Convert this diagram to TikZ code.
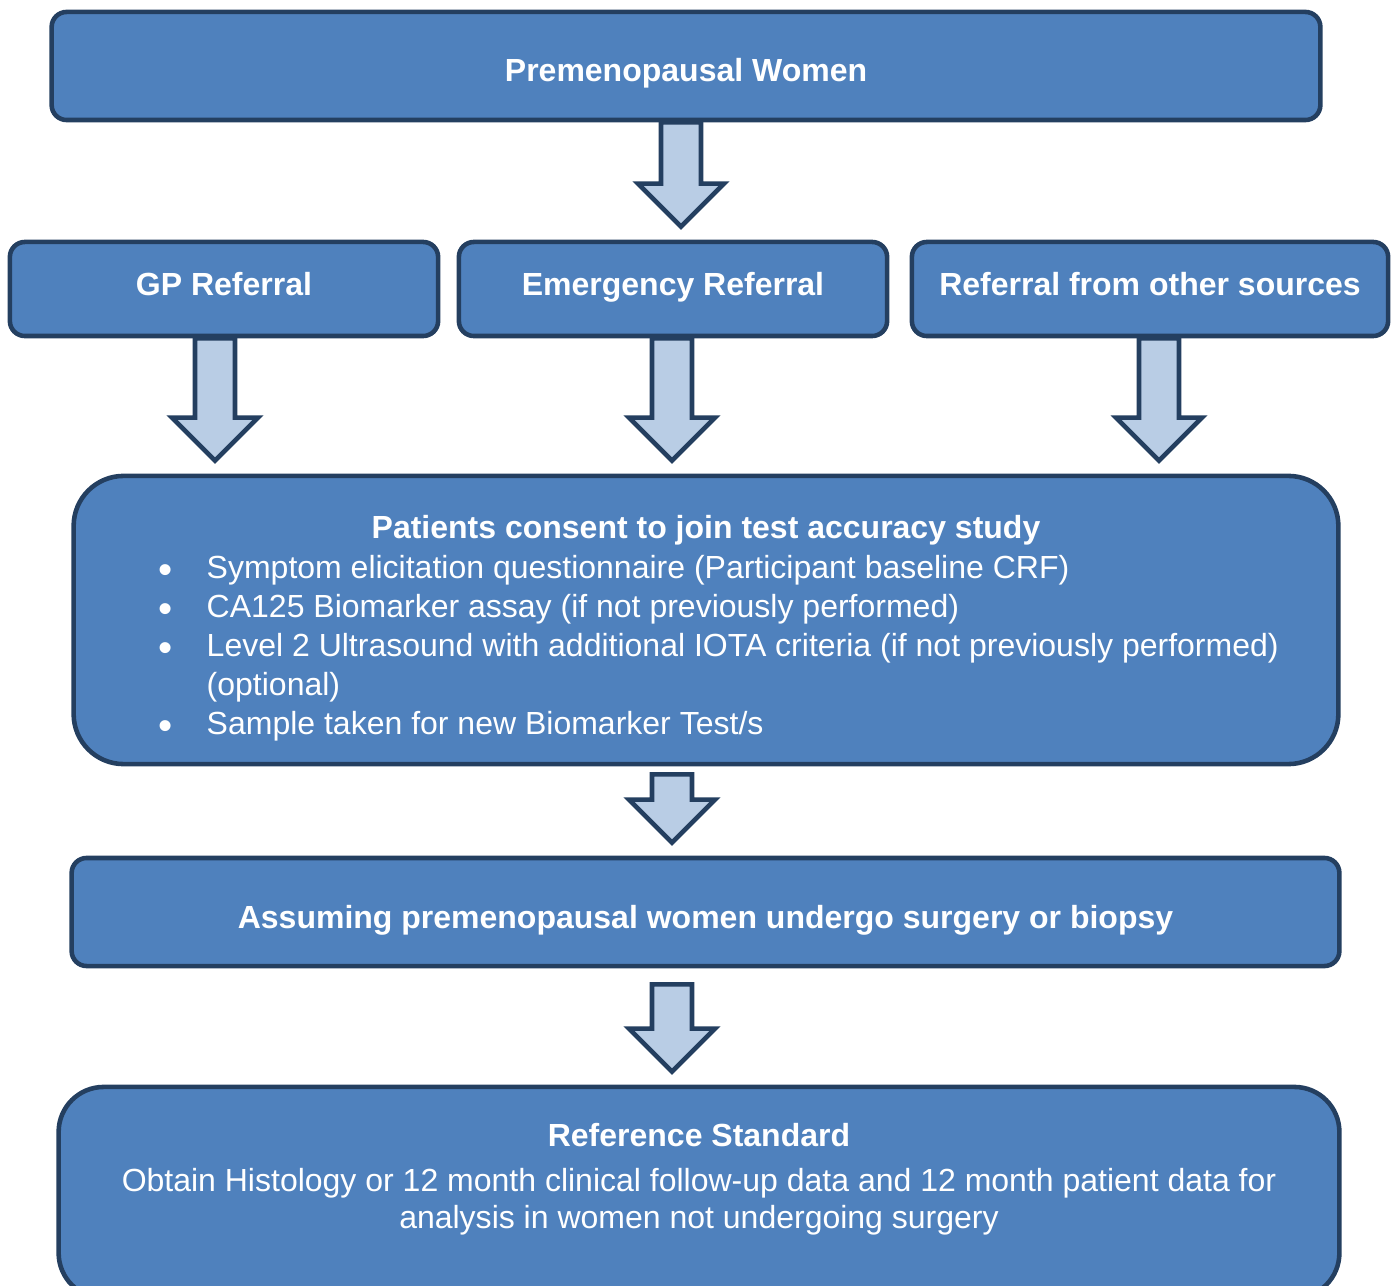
\documentclass[tikz,border=0pt]{standalone}
\usepackage{fontspec}
\setmainfont{Liberation Sans}
\usepackage{tikz}
\usetikzlibrary{calc}

\definecolor{boxblue}{HTML}{4F81BD}
\definecolor{boxline}{HTML}{243F60}
\definecolor{arrowfill}{HTML}{B9CDE5}

\tikzset{
  box/.style={draw=boxline, fill=boxblue, line width=1.3pt, rounded corners=0.15cm, inner sep=0pt},
  bigbox/.style={box, rounded corners=0.5cm},
  boxtext/.style={text=white, font=\fontsize{9.1}{11.1}\selectfont, inner sep=0pt},
  boxhead/.style={boxtext, font=\fontsize{9.1}{11.1}\selectfont\bfseries, anchor=base},
  blockarrow/.style={draw=boxline, fill=arrowfill, line width=1.3pt, line join=miter},
}

\newcommand{\bigbullet}{\raisebox{-1.5pt}{\fontsize{11.5}{11.1}\selectfont\textbullet}}

% block arrow: column, from node, to node, gap below the from node
\newcommand{\flowarrow}[4]{%
  \draw[blockarrow] ($(#1 |- #2.south)+(-20,#4)$) -- ($(#1 |- #3.north)+(-20,-56)$)
    -- ($(#1 |- #3.north)+(-43,-56)$) -- ($(#1 |- #3.north)+(0,-13)$)
    -- ($(#1 |- #3.north)+(43,-56)$) -- ($(#1 |- #3.north)+(20,-56)$)
    -- ($(#1 |- #2.south)+(20,#4)$) -- cycle;}

\begin{document}
\begin{tikzpicture}[x=0.01cm, y=-0.01cm]
\useasboundingbox (0,0) rectangle (1398,1286);

% boxes
\node[box, minimum width=12.68cm, minimum height=1.08cm] (women) at (686,66) {};
\node[box, minimum width=4.28cm, minimum height=0.94cm] (gp) at (224,289) {};
\node[box, minimum width=4.28cm, minimum height=0.94cm] (emerg) at (673,289) {};
\node[box, minimum width=4.76cm, minimum height=0.94cm] (other) at (1150,289) {};
\node[bigbox, minimum width=12.64cm, minimum height=2.88cm] (consent) at (706,620) {};
\node[box, minimum width=12.67cm, minimum height=1.08cm] (surgery) at (705.5,912) {};
\node[bigbox, rounded corners=0.45cm, minimum width=12.80cm, minimum height=2.11cm] (refstd) at (699,1192.5) {};

% texts
\node[boxhead] (womentext) at (686,82) {Premenopausal Women};
\node[boxhead] (gptext) at (224,296) {GP Referral};
\node[boxhead] (emergtext) at (673,296) {Emergency Referral};
\node[boxhead] (othertext) at (1150,296) {Referral from other sources};
\node[boxhead] (consenthead) at (706,539) {Patients consent to join test accuracy study};
\node[boxtext, anchor=north west] (consentlist) at (158,550) {%
  \begin{tabular}{@{}p{0.48cm}@{}l@{}}
  \bigbullet & Symptom elicitation questionnaire (Participant baseline CRF)\\
  \bigbullet & CA125 Biomarker assay (if not previously performed)\\
  \bigbullet & Level 2 Ultrasound with additional IOTA criteria (if not previously performed)\\
             & (optional)\\
  \bigbullet & Sample taken for new Biomarker Test/s
  \end{tabular}};
\node[boxhead] (surgerytext) at (705.5,928) {Assuming premenopausal women undergo surgery or biopsy};
\node[boxhead] (refhead) at (699,1146) {Reference Standard};
\node[boxtext, font=\fontsize{9.1}{10.5}\selectfont, align=center] (refbody) at (699,1202)
  {Obtain Histology or 12 month clinical follow-up data and 12 month patient data for\\
   analysis in women not undergoing surgery};

% arrows
\coordinate (xtop) at (681,0);
\coordinate (xgp) at (215,0);
\coordinate (xmid) at (672,0);
\coordinate (xother) at (1159,0);
\flowarrow{xtop}{women}{emerg}{0}
\flowarrow{xgp}{gp}{consent}{0}
\flowarrow{xmid}{emerg}{consent}{0}
\flowarrow{xother}{other}{consent}{0}
\flowarrow{xmid}{consent}{surgery}{8}
\flowarrow{xmid}{surgery}{refstd}{16}
\end{tikzpicture}
\end{document}
